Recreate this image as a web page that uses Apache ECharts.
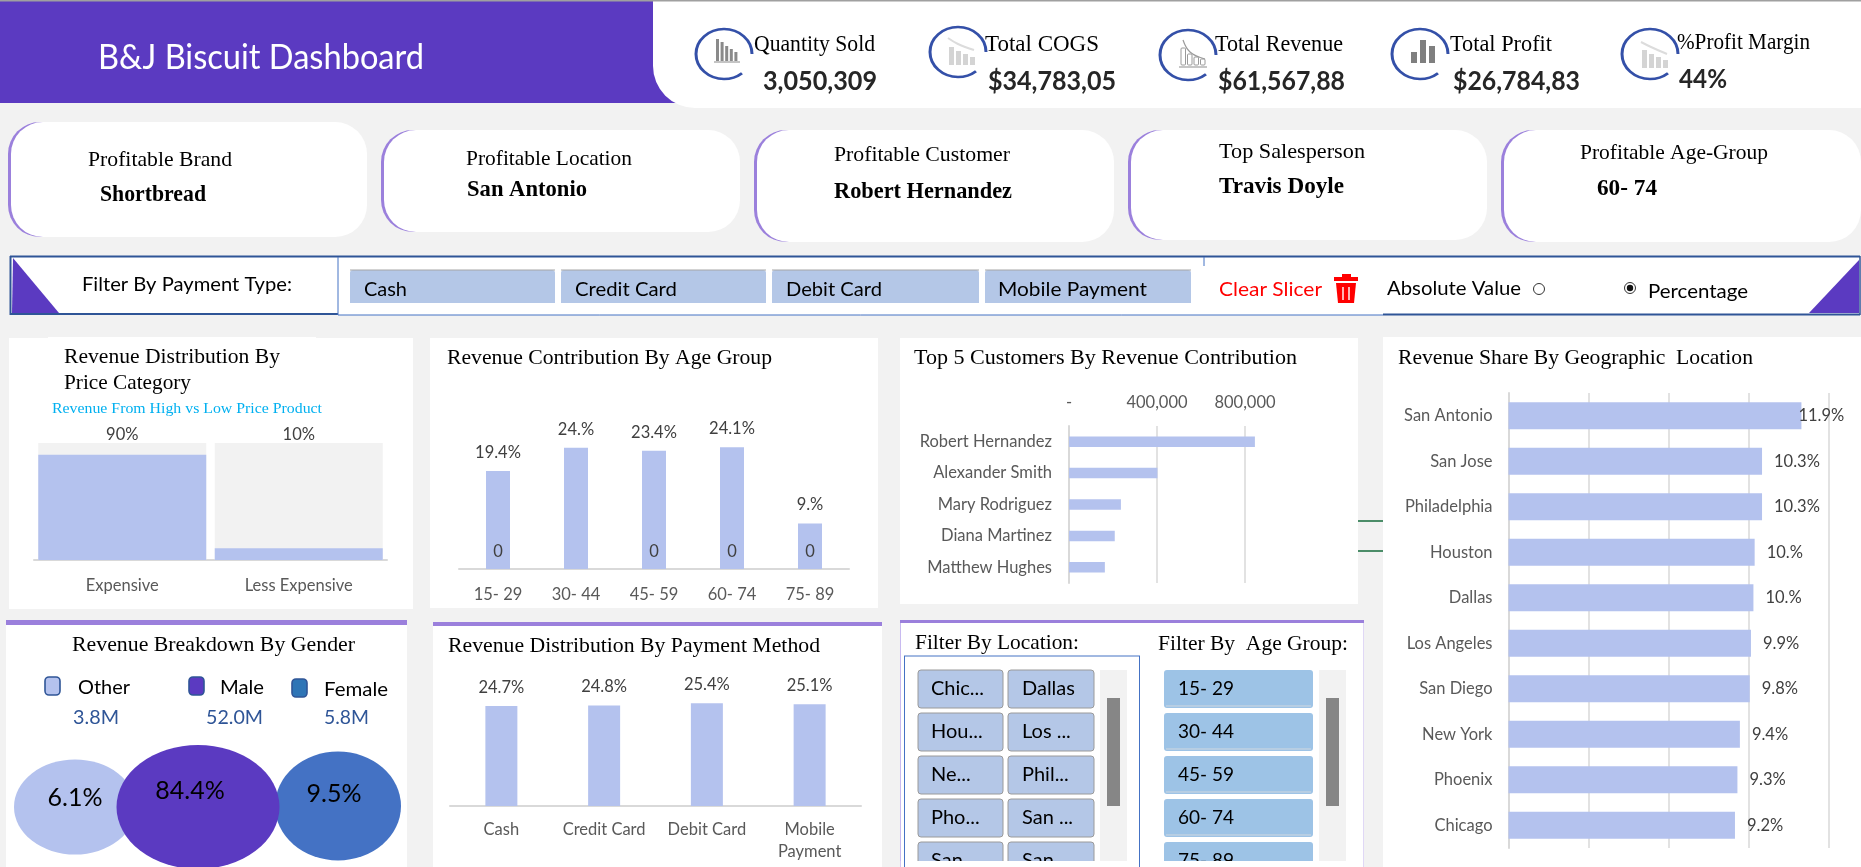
<!DOCTYPE html>
<html><head><meta charset="utf-8">
<style>html,body{margin:0;padding:0;background:#f2f2f2;overflow:hidden}#c{width:1861px;height:867px}</style>
<script src="https://cdn.jsdelivr.net/npm/echarts@6/dist/echarts.min.js"></script>
</head><body><div id="c"></div>
<script>
// ---------- data ----------
const priceCats = ['Expensive', 'Less Expensive'];
const priceShare = [90, 10];
const priceFull = [100, 100];
const priceLabels = ['90%', '10%'];

const ageCats = ['15- 29', '30- 44', '45- 59', '60- 74', '75- 89'];
const ageShare = [19.4, 24.0, 23.4, 24.1, 9.0];
const ageLabels = ['19.4%', '24.%', '23.4%', '24.1%', '9.%'];
const ageZeroLabels = ['0', '', '0', '0', '0'];
const ageZero = [0, 0, 0, 0, 0];

const customerNames = ['Robert Hernandez', 'Alexander Smith', 'Mary Rodriguez', 'Diana Martinez', 'Matthew Hughes'];
const customerRevenue = [845000, 402000, 236000, 208000, 163000];

const locationCats = ['San Antonio', 'San Jose', 'Philadelphia', 'Houston', 'Dallas', 'Los Angeles', 'San Diego', 'New York', 'Phoenix', 'Chicago'];
const locationShare = [11.9, 10.3, 10.3, 10.0, 9.95, 9.85, 9.8, 9.4, 9.3, 9.2];
const locationLabels = ['11.9%', '10.3%', '10.3%', '10.%', '10.%', '9.9%', '9.8%', '9.4%', '9.3%', '9.2%'];

const paymentCats = ['Cash', 'Credit Card', 'Debit Card', 'Mobile\nPayment'];
const paymentShare = [24.7, 24.8, 25.4, 25.1];
const paymentLabels = ['24.7%', '24.8%', '25.4%', '25.1%'];

const genderCats = ['Other', 'Male', 'Female'];
const genderShare = [6.1, 84.4, 9.5];
const genderRevenue = ['3.8M', '52.0M', '5.8M'];

// ---------- style ----------
const SERIF = '"Liberation Serif", serif', SANS = 'Lato, sans-serif';
const BAR = '#b4c2ee', PURPLE = '#5b3ac1', LILAC = '#9b80dc', AXIS = '#d9d9d9', NAVY = '#2f5597';
const measure = document.createElement('canvas').getContext('2d');
const g = [];
function T(text, x, y, w, size, opt) {
  opt = opt || {};
  const weight = opt.weight || 'normal', family = opt.family || SERIF;
  measure.font = weight + ' ' + size + 'px ' + family;
  const sx = w ? w / measure.measureText(text).width : 1;
  g.push({ type: 'text', x: x, y: y + (family === SERIF ? 1.5 : 0.5), scaleX: sx, z: 20, silent: true,
    style: { text: text, fontSize: size, fontWeight: weight, fontFamily: family, fill: opt.color || '#000',
      textAlign: 'left', textVerticalAlign: 'middle' } });
}
function R(x, y, w, h, fill, opt) {
  opt = opt || {};
  g.push({ type: 'rect', z: opt.z === undefined ? -10 : opt.z, silent: true,
    shape: { x: x, y: y, width: w, height: h, r: opt.r || 0 },
    style: { fill: fill, stroke: opt.stroke || null, lineWidth: opt.lw || 0 } });
}
function Poly(points, fill, z) {
  g.push({ type: 'polygon', z: z === undefined ? -5 : z, silent: true, shape: { points: points }, style: { fill: fill } });
}
function Line(x1, y1, x2, y2, color, lw, z) {
  g.push({ type: 'line', z: z === undefined ? -5 : z, silent: true, shape: { x1, y1, x2, y2 }, style: { stroke: color, lineWidth: lw } });
}
function Curve(points, color, lw) {
  g.push({ type: 'polyline', z: 5, silent: true, shape: { points: points, smooth: 0.4 }, style: { stroke: color, lineWidth: lw, fill: null } });
}
function Icon(cx, cy, bx, by, heights, bw, gap, color, outline) {
  g.push({ type: 'arc', x: cx, y: cy, scaleY: 25 / 28, z: 5, silent: true,
    shape: { cx: 0, cy: 0, r: 28, startAngle: 0, endAngle: 50 * Math.PI / 180, clockwise: false },
    style: { stroke: '#3450a8', lineWidth: 3, fill: null } });
  heights.forEach((h, i) => R(bx + i * (bw + gap), by - h, bw, h, outline ? '#fff' : color,
    outline ? { z: 5, stroke: color, lw: 1, r: 1 } : { z: 5 }));
}
function Card(x, y, w, h) {
  R(x, y, w - 30, h, LILAC, { r: 32 });
  R(x + 3, y, w - 3, h, '#fff', { r: 32, z: -9 });
}

// header
R(0, 0, 1861, 1.5, '#a0a0a0', { z: -8 });
R(0, 1, 700, 102, PURPLE);
R(653, 1, 1208, 107, '#fff', { r: [0, 0, 0, 42], z: -9 });
T('B&J Biscuit Dashboard', 98, 58, 326, 34, { family: SANS, color: '#fff' });
Icon(724, 54, 716, 61, [22, 19, 15, 12, 9], 3, 1.6, '#8a8a8a');
Line(714, 62, 740, 62, '#b0b0b0', 1.5, 5);
Icon(958, 52, 949, 65, [18, 14, 11, 8], 5, 2, '#d4d4d4');
Curve([[948, 38], [958, 44], [974, 50]], '#dcdcdc', 2);
Icon(1188, 55, 1181, 65, [17, 11, 8, 6], 4.5, 2, '#9a9a9a', true);
Line(1179, 67, 1207, 67, '#a0a0a0', 1.2, 5);
Curve([[1183, 40], [1190, 52], [1205, 59]], '#9a9a9a', 1.2);
Icon(1420, 54, 1411, 63, [11, 23, 17], 6, 3, '#7f7f7f');
Icon(1650, 54, 1642, 68, [18, 14, 11, 8], 5, 2, '#d4d4d4');
Curve([[1641, 42], [1651, 47], [1667, 54]], '#dcdcdc', 2);
[['Quantity Sold', 754, 121, 43], ['Total COGS', 985, 114, 43], ['Total Revenue', 1215, 128, 43], ['Total Profit', 1450, 102, 43], ['%Profit Margin', 1677, 133, 41]]
  .forEach(a => T(a[0], a[1], a[3], a[2], 23));
[['3,050,309', 763, 114, 81], ['$34,783,05', 988, 128, 81], ['$61,567,88', 1218, 127, 81], ['$26,784,83', 1453, 127, 81], ['44%', 1679, 48, 79]]
  .forEach(a => T(a[0], a[1], a[3], a[2], 26, { family: SANS, weight: 'bold', color: '#262626' }));

// cards
Card(8, 122, 359, 115); Card(381, 130, 359, 102); Card(754, 130, 360, 112); Card(1128, 130, 359, 110); Card(1501, 130, 360, 112);
T('Profitable Brand', 88, 159, 144, 22);        T('Shortbread', 100, 194, 106, 23, { weight: 'bold' });
T('Profitable Location', 466, 158, 166, 22);    T('San Antonio', 467, 189, 120, 23, { weight: 'bold' });
T('Profitable Customer', 834, 154, 176, 22);    T('Robert Hernandez', 834, 191, 178, 23, { weight: 'bold' });
T('Top Salesperson', 1219, 151, 146, 22);       T('Travis Doyle', 1219, 186, 125, 23, { weight: 'bold' });
T('Profitable Age-Group', 1580, 152, 188, 22);  T('60- 74', 1597, 188, 60, 23, { weight: 'bold' });

// filter bar
R(11, 257, 1849, 58, '#fff');
Line(10, 256.5, 1204, 256.5, NAVY, 2); Line(1204, 256.5, 1860, 256.5, NAVY, 2);
Line(10.5, 256, 10.5, 315, NAVY, 2); Line(1860, 256, 1860, 315, NAVY, 1.5);
Line(10, 314, 338, 314, NAVY, 2); Line(338, 315, 1383, 315, '#4472c4', 1); Line(1383, 314.5, 1860, 314.5, NAVY, 2);
Line(338, 257, 338, 315, '#4472c4', 1); Line(1204, 257, 1204, 266, '#4472c4', 1);
Poly([[13, 258], [59, 313], [12, 313]], PURPLE);
Poly([[1859, 260], [1809, 313], [1859, 313]], PURPLE);
T('Filter By Payment Type:', 82, 284, 210, 20, { family: SANS });
[['Cash', 350, 205, 364, 43], ['Credit Card', 561, 205, 575, 102], ['Debit Card', 772, 207, 786, 96], ['Mobile Payment', 985, 206, 998, 149]].forEach(a => {
  R(a[1], 270, a[2], 33, '#b4c7e7', { r: [3, 3, 0, 0], z: -4 });
  Line(a[1], 270, a[1] + a[2], 270, '#a6a6a6', 1, -3);
  T(a[0], a[3], 289, a[4], 20, { family: SANS });
});
T('Clear Slicer', 1219, 289, 103, 20, { family: SANS, color: '#ff0000' });
R(1342, 274, 9, 3, '#ff0000', { z: 5 }); R(1334, 277, 24, 4, '#ff0000', { z: 5 });
Poly([[1336, 283], [1356, 283], [1354, 303], [1338, 303]], '#ff0000', 5);
Line(1343, 287, 1343, 300, '#fff', 1.4, 6); Line(1349, 287, 1349, 300, '#fff', 1.4, 6);
T('Absolute Value', 1387, 288, 134, 20, { family: SANS });
g.push({ type: 'circle', z: 5, silent: true, shape: { cx: 1539, cy: 289, r: 5.5 }, style: { fill: '#fff', stroke: '#333', lineWidth: 1 } });
g.push({ type: 'circle', z: 5, silent: true, shape: { cx: 1630, cy: 288, r: 5.5 }, style: { fill: '#fff', stroke: '#333', lineWidth: 1 } });
g.push({ type: 'circle', z: 6, silent: true, shape: { cx: 1630, cy: 288, r: 3.2 }, style: { fill: '#111' } });
T('Percentage', 1648, 291, 100, 20, { family: SANS });

// panels
R(9, 338, 404, 271, '#fff'); R(48, 337, 268, 2, '#fff');
R(430, 338, 448, 270, '#fff');
R(900, 338, 458, 266, '#fff');
R(1383, 337, 478, 530, '#fff');
R(6, 625, 401, 242, '#fff'); R(6, 620, 401, 5, LILAC);
R(433, 626, 449, 241, '#fff'); R(433, 622, 449, 4, LILAC);
R(900, 623, 464, 244, '#fff'); R(900, 620, 464, 3, LILAC);
Line(900.5, 623, 900.5, 867, '#c8baf0', 1); Line(1363.5, 623, 1363.5, 867, '#e0d8f6', 1);
Line(1358, 521, 1383, 521, '#217346', 1.6); Line(1358, 551, 1383, 551, '#217346', 1.6);

T('Revenue Distribution By', 64, 356, 216, 22);
T('Price Category', 64, 382, 127, 22);
T('Revenue From High vs Low Price Product', 52, 408, 270, 15, { color: '#00b0f0' });
T('Revenue Contribution By Age Group', 447, 357, 325, 22);
T('Top 5 Customers By Revenue Contribution', 914, 357, 383, 22);
T('Revenue Share By Geographic  Location', 1398, 357, 355, 22);
T('Revenue Breakdown By Gender', 72, 644, 283, 21);
T('Revenue Distribution By Payment Method', 448, 645, 372, 21);
T('Filter By Location:', 915, 642, 164, 21);
T('Filter By  Age Group:', 1158, 643, 190, 21);

// gender legend
[[45, 677, BAR], [189, 677, PURPLE], [292, 679, '#2e75b6']].forEach(a =>
  R(a[0], a[1], 15, 18, a[2], { r: 4, stroke: NAVY, lw: 1.6, z: 5 }));
T(genderCats[0], 78, 687, 52, 20, { family: SANS });
T(genderCats[1], 220, 687, 44, 20, { family: SANS });
T(genderCats[2], 324, 689, 64, 20, { family: SANS });
T(genderRevenue[0], 73, 717, 46, 20, { family: SANS, color: NAVY });
T(genderRevenue[1], 206, 717, 57, 20, { family: SANS, color: NAVY });
T(genderRevenue[2], 324, 717, 45, 20, { family: SANS, color: NAVY });

// slicers
Line(904, 656, 1140, 656, '#4472c4', 1); Line(904.5, 656, 904.5, 867, '#4472c4', 1); Line(1139.5, 656, 1139.5, 867, '#4472c4', 1);
const rowY = [670, 713, 756, 799, 842];
[['Chic...', 'Dallas'], ['Hou...', 'Los ...'], ['Ne...', 'Phil...'], ['Pho...', 'San ...'], ['San', 'San']].forEach((r, i) => {
  R(918, rowY[i], 85, 38, '#b4c7e7', { r: 3, stroke: '#9a9a9a', lw: 1, z: -3 });
  R(1008, rowY[i], 86, 38, '#b4c7e7', { r: 3, stroke: '#9a9a9a', lw: 1, z: -3 });
  T(r[0], 931, rowY[i] + 18, 0, 20, { family: SANS });
  T(r[1], 1022, rowY[i] + 18, 0, 20, { family: SANS });
});
ageCats.forEach((c, i) => {
  R(1164, rowY[i], 149, 38, '#9dc3e6', { r: 3, z: -3 });
  Line(1166, rowY[i] + 36, 1311, rowY[i] + 36, '#d0d8e0', 1, -2);
  T(c, 1178, rowY[i] + 18, 56, 20, { family: SANS });
});
R(900.8, 861, 462, 6, '#fff', { z: 30 });
Line(904.5, 861, 904.5, 867, '#4472c4', 1, 31); Line(1139.5, 861, 1139.5, 867, '#4472c4', 1, 31);
R(1100, 670, 27, 191, '#f2f2f2', { z: -3 }); R(1107, 698, 13, 108, '#868686', { z: -2 });
R(1319, 670, 27, 191, '#f2f2f2', { z: -3 }); R(1326, 698, 13, 108, '#868686', { z: -2 });

// ---------- chart ----------
const lab = { fontFamily: SANS, fontSize: 16.5, color: '#404040' };
const axLab = { fontFamily: SANS, fontSize: 16.5, color: '#595959' };
const axLine = { lineStyle: { color: AXIS, width: 2 } };
const hiddenVal = (idx, max) => ({ type: 'value', gridIndex: idx, min: 0, max: max, show: false });
const catX = (idx, data, margin) => ({ type: 'category', gridIndex: idx, data: data, axisTick: { show: false }, axisLine: axLine,
  axisLabel: Object.assign({ margin: margin, interval: 0, lineHeight: 22 }, axLab) });

const option = {
  backgroundColor: '#f2f2f2', animation: false, graphic: { elements: g },
  grid: [
    { left: 34, top: 443, width: 353, height: 117 },
    { left: 459, top: 417.5, width: 390, height: 151.5 },
    { left: 1069, top: 426, width: 264, height: 157 },
    { left: 1508.5, top: 393, width: 320, height: 455 },
    { left: 450, top: 684.5, width: 411, height: 121.5 },
    { left: 1.5, top: 747, width: 393, height: 120 }
  ],
  xAxis: [
    catX(0, priceCats, 15),
    catX(1, ageCats, 15),
    { type: 'value', gridIndex: 2, position: 'top', min: 0, max: 1200000, interval: 400000,
      axisLine: { show: false }, axisTick: { show: false },
      axisLabel: Object.assign({ margin: 15, formatter: v => v === 0 ? '-' : v === 1200000 ? '' : v.toLocaleString('en-US') }, axLab),
      splitLine: { show: true, showMaxLine: false, lineStyle: { color: AXIS, width: 1.5 } } },
    { type: 'value', gridIndex: 3, min: 0, max: 13, interval: 3.25, axisLine: { show: false }, axisTick: { show: false },
      axisLabel: { show: false }, splitLine: { show: true, lineStyle: { color: AXIS, width: 1.5 } } },
    catX(4, paymentCats, 13),
    { type: 'category', gridIndex: 5, data: genderCats, show: false }
  ],
  yAxis: [
    hiddenVal(0, 100),
    hiddenVal(1, 30),
    { type: 'category', gridIndex: 2, inverse: true, data: customerNames, axisTick: { show: false }, axisLine: axLine,
      axisLabel: Object.assign({ margin: 17 }, axLab) },
    { type: 'category', gridIndex: 3, inverse: true, data: locationCats, axisTick: { show: false }, axisLine: axLine,
      axisLabel: Object.assign({ margin: 16 }, axLab) },
    hiddenVal(4, 30),
    { type: 'category', gridIndex: 5, data: ['Share'], show: false }
  ],
  series: [
    { type: 'bar', name: 'Price band', xAxisIndex: 0, yAxisIndex: 0, data: priceFull, barWidth: 168, barGap: '-100%', silent: true,
      itemStyle: { color: '#f2f2f2' },
      label: Object.assign({ show: true, position: 'top', distance: 0, formatter: p => priceLabels[p.dataIndex] }, lab) },
    { type: 'bar', name: 'Price share', xAxisIndex: 0, yAxisIndex: 0, data: priceShare, barWidth: 168, barGap: '-100%', itemStyle: { color: BAR } },
    { type: 'bar', name: 'Age share', xAxisIndex: 1, yAxisIndex: 1, data: ageShare, barWidth: 24, barGap: '-100%', itemStyle: { color: BAR },
      label: Object.assign({ show: true, position: 'top', distance: 10, formatter: p => ageLabels[p.dataIndex] }, lab) },
    { type: 'bar', name: 'Age zero', xAxisIndex: 1, yAxisIndex: 1, data: ageZero, barWidth: 24, barGap: '-100%', itemStyle: { color: BAR },
      label: Object.assign({ show: true, position: 'top', distance: 9, formatter: p => ageZeroLabels[p.dataIndex] }, lab) },
    { type: 'bar', name: 'Customer revenue', xAxisIndex: 2, yAxisIndex: 2, data: customerRevenue, barWidth: 10.5, itemStyle: { color: BAR } },
    { type: 'bar', name: 'Location share', xAxisIndex: 3, yAxisIndex: 3, barWidth: 27, itemStyle: { color: BAR },
      data: locationShare.map((v, i) => i === 0 ? { value: v, label: { distance: -3 } } : v),
      label: Object.assign({ show: true, position: 'right', distance: 12, formatter: p => locationLabels[p.dataIndex] }, lab) },
    { type: 'bar', name: 'Payment share', xAxisIndex: 4, yAxisIndex: 4, data: paymentShare, barWidth: 32, itemStyle: { color: BAR },
      label: Object.assign({ show: true, position: 'top', distance: 10, formatter: p => paymentLabels[p.dataIndex] }, lab) },
    { type: 'scatter', name: 'Gender share', xAxisIndex: 5, yAxisIndex: 5, clip: false, z: 3,
      data: [
        { value: [0, 0, genderShare[0]], symbolSize: [122, 95], symbolOffset: [8, 0], itemStyle: { color: BAR, opacity: 1 }, label: { offset: [0, -9] } },
        { value: [2, 0, genderShare[2]], symbolSize: [126, 109], symbolOffset: [9, -1], itemStyle: { color: '#4472c4', opacity: 1 }, label: { offset: [-4, -12] } },
        { value: [1, 0, genderShare[1]], symbolSize: [163, 124], itemStyle: { color: PURPLE, opacity: 1 }, label: { offset: [-8, -16] } }
      ],
      label: { show: true, position: 'inside', fontFamily: SANS, fontSize: 25, color: '#000', formatter: p => p.value[2] + '%' } }
  ]
};
const chart = echarts.init(document.getElementById('c'));
chart.setOption(option);
</script></body></html>
